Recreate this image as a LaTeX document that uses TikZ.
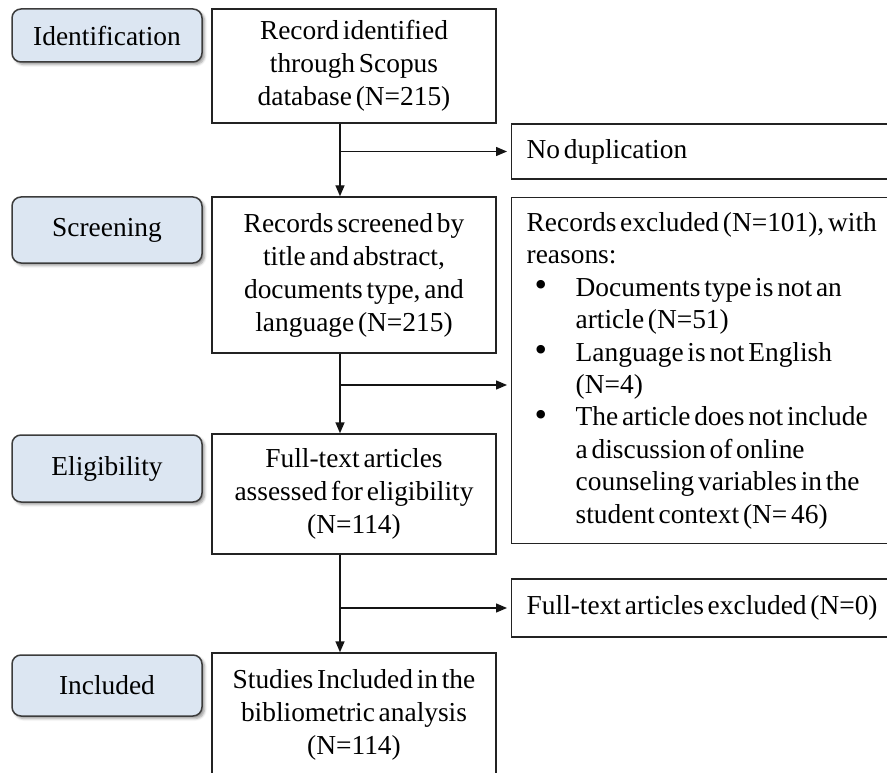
\documentclass[tikz,border=0pt]{standalone}
\usepackage{fontspec}
\usepackage{graphicx}
\setmainfont[WordSpace=0.55]{Liberation Serif}
\usetikzlibrary{arrows.meta,shadows.blur}
\definecolor{labfill}{RGB}{220,230,242}
\definecolor{labborder}{RGB}{60,60,60}
\definecolor{boxclr}{RGB}{35,35,35}
\definecolor{lineclr}{RGB}{20,20,20}
\newcommand\bitem[1]{\makebox[49pt][l]{\hspace{8pt}\raisebox{-0.5pt}{\scalebox{1.3}{\textbullet}}}#1}
\newcommand\bcont[1]{\hspace*{49pt}#1}
\newcommand\tightsp{\spaceskip=0.1375em\relax}
\begin{document}
\begin{tikzpicture}[x=1pt,y=-1pt,
  txt/.style={font=\fontsize{27.4}{33}\selectfont, text=black},
  labbox/.style={txt, draw=labborder, line width=1.5pt, fill=labfill,
    rounded corners=9pt, minimum width=190pt, inner sep=0pt,
    blur shadow={shadow xshift=2.5pt, shadow yshift=-2.5pt,
      shadow blur radius=2.5pt, shadow opacity=40}},
  mainbox/.style={txt, draw=boxclr, line width=1.4pt, minimum width=284pt,
    align=center, inner sep=0pt},
  sidebox/.style={txt, draw=boxclr, line width=1.4pt, text width=370pt,
    align=left, inner xsep=15pt, inner ysep=0pt},
  arr/.style={draw=lineclr, line width=1.4pt,
    -{Triangle[length=11pt,width=9pt]}}]
\clip (0,0) rectangle (887,773);
% stage labels
\node[labbox, minimum height=53pt] (lab1) at (107,35.5) {Identification};
\node[labbox, minimum height=66pt] (lab2) at (107,230) {Screening};
\node[labbox, minimum height=67pt] (lab3) at (107,468.5) {Eligibility};
\node[labbox, minimum height=61pt] (lab4) at (107,685.5) {Included};
% main column
\node[mainbox, minimum height=114pt] (b1) at (354,66)
  {Record identified\\through Scopus\\database (N=215)};
\node[mainbox, minimum height=156pt] (b2) at (354,275)
  {Records screened by\\title and abstract,\\documents type, and\\language (N=215)};
\node[mainbox, minimum height=120pt] (b3) at (354,494)
  {Full-text articles\\assessed for eligibility\\(N=114)};
\node[mainbox, minimum height=123pt] (b4) at (354,714.5)
  {Studies Included in the\\bibliometric analysis\\(N=114)};
% side boxes
\node[sidebox, minimum height=55pt, anchor=west] (r1) at (511,151.5)
  {\tightsp No duplication};
\node[sidebox, minimum height=346pt, anchor=north west,
  font=\fontsize{27.4}{32.4}\selectfont] (r2) at (511,197)
  {\tightsp Records excluded (N=101), with\\
   reasons:\\
   \bitem{Documents type is not an}\\
   \bcont{article (N=51)}\\
   \bitem{Language is not English}\\
   \bcont{(N=4)}\\
   \bitem{The article does not include}\\
   \bcont{a discussion of online}\\
   \bcont{counseling variables in the}\\
   \bcont{student context (N= 46)}};
\node[sidebox, minimum height=58pt, anchor=west] (r3) at (511,608)
  {\tightsp Full-text articles excluded (N=0)};
% connectors
\coordinate (sp) at (340,0);
\coordinate (j2) at (340,385);
\draw[arr] (b1.south -| sp) -- (b2.north -| sp);
\draw[arr] (sp |- r1.west) -- ([xshift=-4pt]r1.west);
\draw[arr] (b2.south -| sp) -- (b3.north -| sp);
\draw[arr] (j2) -- ([xshift=-4pt]j2 -| r2.west);
\draw[arr] (b3.south -| sp) -- (b4.north -| sp);
\draw[arr] (sp |- r3.west) -- ([xshift=-4pt]r3.west);
\end{tikzpicture}
\end{document}
